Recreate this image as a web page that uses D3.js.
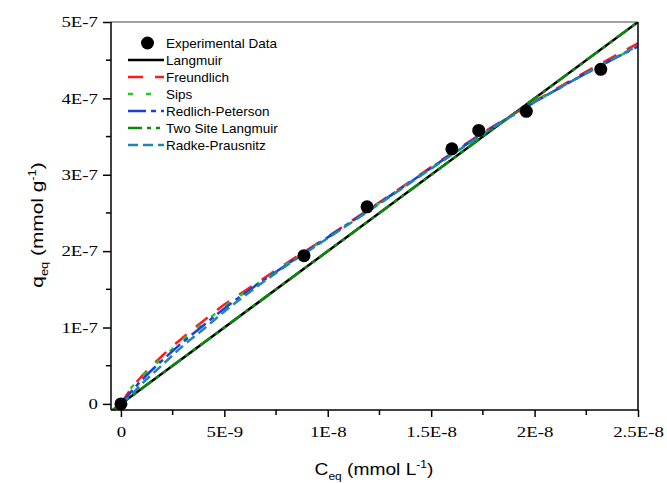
<!DOCTYPE html>
<html>
<head>
<meta charset="utf-8">
<script src="https://cdn.jsdelivr.net/npm/d3@7/dist/d3.min.js"></script>
<style>
  html, body { margin: 0; padding: 0; background: #fff; }
  svg { display: block; }
</style>
</head>
<body>
<svg id="chart" width="667" height="483"></svg>
<script>
// ---------- DATA ----------
const expC = [0, 8.85e-9, 1.19e-8, 1.60e-8, 1.73e-8, 1.96e-8, 2.32e-8];
const expQ = [0, 1.94e-7, 2.58e-7, 3.34e-7, 3.58e-7, 3.83e-7, 4.38e-7];

const fitC = [0, 0.5e-9, 1e-9, 2e-9, 3e-9, 4e-9, 5e-9, 6e-9, 8e-9, 1e-8, 1.25e-8, 1.5e-8, 1.75e-8, 2e-8, 2.25e-8, 2.5e-8];
const freundlichQ = [0, 0.20e-7, 0.36e-7, 0.63e-7, 0.87e-7, 1.09e-7, 1.30e-7, 1.48e-7, 1.84e-7, 2.19e-7, 2.64e-7, 3.10e-7, 3.55e-7, 3.96e-7, 4.35e-7, 4.72e-7];
const sipsQ        = [0, 0.21e-7, 0.35e-7, 0.60e-7, 0.84e-7, 1.06e-7, 1.27e-7, 1.46e-7, 1.83e-7, 2.18e-7, 2.63e-7, 3.09e-7, 3.54e-7, 3.95e-7, 4.33e-7, 4.68e-7];
const redlichQ     = [0, 0.16e-7, 0.31e-7, 0.57e-7, 0.81e-7, 1.03e-7, 1.25e-7, 1.45e-7, 1.82e-7, 2.18e-7, 2.63e-7, 3.09e-7, 3.54e-7, 3.95e-7, 4.33e-7, 4.68e-7];
const radkeQ       = [0, 0.12e-7, 0.26e-7, 0.51e-7, 0.76e-7, 0.98e-7, 1.21e-7, 1.42e-7, 1.81e-7, 2.17e-7, 2.62e-7, 3.08e-7, 3.53e-7, 3.95e-7, 4.33e-7, 4.69e-7];

const langC = [-5e-10, 2.5e-8];
const langmuirQ = [-1e-8, 5e-7];
const twoSiteQ  = [-1e-8, 5e-7];

const xTicks = [0, 5e-9, 1e-8, 1.5e-8, 2e-8, 2.5e-8];
const xTickLabels = ["0", "5E-9", "1E-8", "1.5E-8", "2E-8", "2.5E-8"];
const yTicks = [0, 1e-7, 2e-7, 3e-7, 4e-7, 5e-7];
const yTickLabels = ["0", "1E-7", "2E-7", "3E-7", "4E-7", "5E-7"];
const xMinor = [2.5e-9, 7.5e-9, 1.25e-8, 1.75e-8, 2.25e-8];
const yMinor = [0.5e-7, 1.5e-7, 2.5e-7, 3.5e-7, 4.5e-7];

const seriesNames = ["Experimental Data", "Langmuir", "Freundlich", "Sips", "Redlich-Peterson", "Two Site Langmuir", "Radke-Prausnitz"];

// ---------- LAYOUT ----------
const L = 111, R = 638, T = 22, B = 410;
const x = d3.scaleLinear().domain([-4.8e-10, 2.5e-8]).range([L, R]);
const y = d3.scaleLinear().domain([-8e-9, 5e-7]).range([B, T]);

const svg = d3.select("#chart");
svg.append("rect").attr("width", 667).attr("height", 483).attr("fill", "#fff");

svg.append("defs").append("clipPath").attr("id", "clip")
  .append("rect").attr("x", L).attr("y", T).attr("width", R - L).attr("height", B - T);

const styles = {
  "Langmuir":          {color: "#000000", dash: null},
  "Freundlich":        {color: "#ff1a1a", dash: "15,12"},
  "Sips":              {color: "#22cc22", dash: "5,13"},
  "Redlich-Peterson":  {color: "#1a40d8", dash: "18,5,5,5"},
  "Two Site Langmuir": {color: "#0a8a0a", dash: "14,5,4,5,4,5"},
  "Radke-Prausnitz":   {color: "#2385a8", dash: "10,5"}
};

const curves = [
  {name: "Langmuir", c: langC, q: langmuirQ},
  {name: "Freundlich", c: fitC, q: freundlichQ},
  {name: "Sips", c: fitC, q: sipsQ},
  {name: "Redlich-Peterson", c: fitC, q: redlichQ},
  {name: "Two Site Langmuir", c: langC, q: twoSiteQ},
  {name: "Radke-Prausnitz", c: fitC, q: radkeQ}
];

const line = d3.line().x(d => x(d[0])).y(d => y(d[1])).curve(d3.curveMonotoneX);
const g = svg.append("g").attr("clip-path", "url(#clip)");
curves.forEach(cv => {
  const st = styles[cv.name];
  g.append("path")
    .datum(cv.c.map((c, i) => [c, cv.q[i]]))
    .attr("d", line)
    .attr("fill", "none")
    .attr("stroke", st.color)
    .attr("stroke-width", 2.5)
    .attr("stroke-dasharray", st.dash);
});

// data points
svg.append("g").selectAll("circle")
  .data(expC.map((c, i) => [c, expQ[i]]))
  .join("circle")
  .attr("cx", d => x(d[0])).attr("cy", d => y(d[1]))
  .attr("r", 6.5).attr("fill", "#000");

// ---------- AXES ----------
const SX = 1.3;
const xAxis = d3.axisBottom(x).tickValues(xTicks).tickSize(7).tickPadding(10)
  .tickFormat((d, i) => xTickLabels[i]);
const gx = svg.append("g").attr("transform", `translate(0,${B})`).call(xAxis);
gx.select(".domain").remove();
gx.selectAll(".tick line").attr("stroke", "#000").attr("stroke-width", 1.5);
gx.selectAll(".tick text")
  .attr("font-family", "'Liberation Serif','Times New Roman',serif")
  .attr("font-size", "14.5px").attr("fill", "#000")
  .attr("transform", `scale(${SX},1)`);

const yAxis = d3.axisLeft(y).tickValues(yTicks).tickSize(8).tickPadding(4)
  .tickFormat((d, i) => yTickLabels[i]);
const gy = svg.append("g").attr("transform", `translate(${L},0)`).call(yAxis);
gy.select(".domain").remove();
gy.selectAll(".tick line").attr("stroke", "#000").attr("stroke-width", 1.5);
gy.selectAll(".tick text")
  .attr("font-family", "'Liberation Serif','Times New Roman',serif")
  .attr("font-size", "14.5px").attr("fill", "#000")
  .attr("x", -13 / SX)
  .attr("transform", `scale(${SX},1)`);

// minor ticks
svg.append("g").selectAll("line").data(xMinor).join("line")
  .attr("x1", d => x(d)).attr("x2", d => x(d))
  .attr("y1", B).attr("y2", B + 5)
  .attr("stroke", "#000").attr("stroke-width", 1.5);
svg.append("g").selectAll("line").data(yMinor).join("line")
  .attr("x1", L - 5).attr("x2", L)
  .attr("y1", d => y(d)).attr("y2", d => y(d))
  .attr("stroke", "#000").attr("stroke-width", 1.5);

// frame
svg.append("line").attr("x1", L).attr("x2", R).attr("y1", T).attr("y2", T)
  .attr("stroke", "#444").attr("stroke-width", 1.2);
svg.append("line").attr("x1", R).attr("x2", R).attr("y1", T).attr("y2", B)
  .attr("stroke", "#000").attr("stroke-width", 1.5);
svg.append("line").attr("x1", L).attr("x2", R).attr("y1", B).attr("y2", B)
  .attr("stroke", "#000").attr("stroke-width", 1.5);
svg.append("line").attr("x1", L).attr("x2", L).attr("y1", T).attr("y2", B)
  .attr("stroke", "#000").attr("stroke-width", 1.5);

// axis titles
const sans = "'Liberation Sans',Arial,sans-serif";
const xt = svg.append("text").attr("transform", "translate(374,475) scale(1.2,1)")
  .attr("text-anchor", "middle").attr("font-family", sans).attr("font-size", "16px").attr("fill", "#000");
xt.append("tspan").text("C");
xt.append("tspan").attr("font-size", "10px").attr("dy", 5).text("eq");
xt.append("tspan").attr("dy", -5).text(" (mmol L");
xt.append("tspan").attr("font-size", "10px").attr("dy", -7).text("-1");
xt.append("tspan").attr("dy", 7).text(")");

const yt = svg.append("text").attr("transform", "translate(43,225) rotate(-90) scale(1.3,1)")
  .attr("text-anchor", "middle").attr("font-family", sans).attr("font-size", "16px").attr("fill", "#000");
yt.append("tspan").text("q");
yt.append("tspan").attr("font-size", "10px").attr("dy", 5).text("eq");
yt.append("tspan").attr("dy", -5).text(" (mmol g");
yt.append("tspan").attr("font-size", "10px").attr("dy", -7).text("-1");
yt.append("tspan").attr("dy", 7).text(")");

// ---------- LEGEND ----------
const lg = svg.append("g");
const rowY0 = 43, rowH = 17;
seriesNames.forEach((name, i) => {
  const yy = rowY0 + i * rowH;
  if (i === 0) {
    lg.append("circle").attr("cx", 147.5).attr("cy", yy).attr("r", 6.5).attr("fill", "#000");
  } else {
    const st = styles[name];
    lg.append("line").attr("x1", 128).attr("x2", 164).attr("y1", yy).attr("y2", yy)
      .attr("stroke", st.color).attr("stroke-width", 2.5)
      .attr("stroke-dasharray", st.dash);
  }
  lg.append("text").attr("x", 166).attr("y", yy).attr("dy", "0.35em")
    .attr("font-family", sans).attr("font-size", "13.5px").attr("fill", "#000").text(name);
});
</script>
</body>
</html>
